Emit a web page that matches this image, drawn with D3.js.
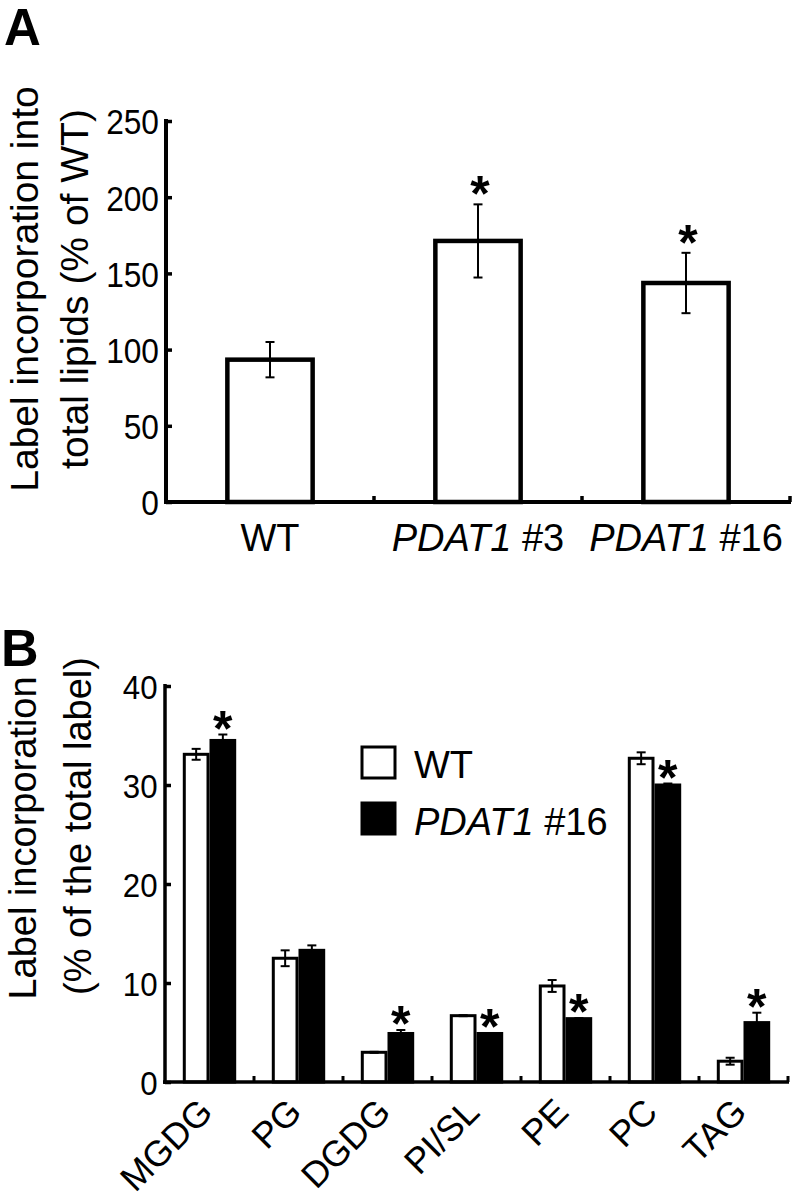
<!DOCTYPE html>
<html>
<head>
<meta charset="utf-8">
<script src="https://cdn.jsdelivr.net/npm/d3@7"></script>
<style>
  html, body { margin: 0; padding: 0; background: #fff; }
  svg { display: block; font-family: "Liberation Sans", Arial, Helvetica, sans-serif; }
</style>
</head>
<body>
<svg id="chart" width="797" height="1201"></svg>
<script>
// ---------- Panel A data ----------
const catsA = ["WT", "PDAT1 #3", "PDAT1 #16"];
const valuesA = [93.4, 171.3, 143.7];
const errA = [11.6, 24.0, 19.8];
const sigA = [false, true, true];
const yTicksA = [0, 50, 100, 150, 200, 250];

// ---------- Panel B data ----------
const catsB = ["MGDG", "PG", "DGDG", "PI/SL", "PE", "PC", "TAG"];
const seriesB = ["WT", "PDAT1 #16"];
const wtB = [33.1, 12.5, 3.0, 6.7, 9.7, 32.7, 2.1];
const wtErrB = [0.55, 0.8, 0.05, 0.05, 0.6, 0.6, 0.35];
const pdatB = [34.5, 13.3, 4.9, 4.9, 6.4, 30.0, 6.0];
const pdatErrB = [0.6, 0.5, 0.35, 0.05, 0.05, 0.15, 1.0];
const sigWtB = [false, false, false, false, false, false, false];
const sigPdatB = [true, false, true, true, true, true, true];
const yTicksB = [0, 10, 20, 30, 40];

const svg = d3.select("#chart");
svg.append("rect").attr("width", 797).attr("height", 1201).attr("fill", "#fff");

function labelWithItalic(sel, label) {
  const m = label.match(/^(PDAT1)(.*)$/);
  if (m) {
    sel.append("tspan").attr("font-style", "italic").text(m[1]);
    sel.append("tspan").text(m[2]);
  } else {
    sel.text(label);
  }
}

function star(g, x, yc) {
  g.append("text")
    .attr("x", x).attr("y", yc + 28)
    .attr("text-anchor", "middle")
    .attr("font-weight", "bold")
    .attr("font-size", 50)
    .text("*");
}

function errBar(g, x, y0, y1, cap, w) {
  g.append("line").attr("x1", x).attr("x2", x).attr("y1", y0).attr("y2", y1)
    .attr("stroke", "#000").attr("stroke-width", w);
  [y0, y1].forEach(yy => g.append("line")
    .attr("x1", x - cap / 2).attr("x2", x + cap / 2).attr("y1", yy).attr("y2", yy)
    .attr("stroke", "#000").attr("stroke-width", w));
}

// ================= PANEL A =================
(function () {
  const g = svg.append("g");
  const x = d3.scaleBand().domain(catsA).range([166, 790]).paddingInner(0.59).paddingOuter(0.295);
  const y = d3.scaleLinear().domain([0, 250]).range([502, 121]);

  g.append("text").attr("x", 4).attr("y", 45).attr("font-size", 51).attr("font-weight", "bold").text("A");

  catsA.forEach((c, i) => {
    g.append("rect")
      .attr("x", x(c)).attr("y", y(valuesA[i]))
      .attr("width", x.bandwidth()).attr("height", y(0) - y(valuesA[i]))
      .attr("fill", "#fff").attr("stroke", "#000").attr("stroke-width", 4.5);
  });
  catsA.forEach((c, i) => {
    const cx = x(c) + x.bandwidth() / 2;
    errBar(g, cx, y(valuesA[i] + errA[i]), y(valuesA[i] - errA[i]), 9, 2);
    if (sigA[i]) star(g, cx + 2, y(valuesA[i] + errA[i]) - 21);
  });

  const yAxis = d3.axisLeft(y).tickValues(yTicksA).tickSizeInner(-6).tickSizeOuter(0).tickPadding(8);
  const ya = g.append("g").attr("transform", "translate(166,0)").call(yAxis);
  ya.select(".domain").attr("stroke-width", 4).attr("d", `M0,${y(250) - 2}V${y(0) + 2}`);
  ya.selectAll(".tick line").attr("stroke-width", 3.5);
  ya.selectAll(".tick text").attr("font-size", 36).attr("fill", "#000")
    .attr("font-family", "Liberation Sans, Arial, sans-serif")
    .attr("transform", "scale(0.88,1)").attr("dy", "0.36em");

  const bounds = d3.range(catsA.length + 1).map(k => 166 + k * x.step());
  g.append("line").attr("x1", 164).attr("x2", bounds[bounds.length - 1] + 1)
    .attr("y1", y(0)).attr("y2", y(0)).attr("stroke", "#000").attr("stroke-width", 4);
  bounds.slice(1).forEach(bx => g.append("line").attr("x1", bx).attr("x2", bx)
    .attr("y1", y(0)).attr("y2", y(0) - 6).attr("stroke", "#000").attr("stroke-width", 3.5));

  catsA.forEach(c => {
    const t = g.append("text").attr("x", x(c) + x.bandwidth() / 2).attr("y", 551)
      .attr("text-anchor", "middle").attr("font-size", 38);
    labelWithItalic(t, c);
  });

  g.append("text").attr("transform", "translate(38,289) rotate(-90)")
    .attr("text-anchor", "middle").attr("font-size", 39).text("Label incorporation into");
  g.append("text").attr("transform", "translate(88,289) rotate(-90)")
    .attr("text-anchor", "middle").attr("font-size", 39).text("total lipids (% of WT)");
})();

// ================= PANEL B =================
(function () {
  const g = svg.append("g");
  const x0 = d3.scaleBand().domain(catsB).range([165, 788]).paddingInner(0.4).paddingOuter(0.2);
  const x1 = d3.scaleBand().domain(seriesB).range([0, x0.bandwidth()]);
  const y = d3.scaleLinear().domain([0, 40]).range([1082, 686]);

  g.append("text").attr("x", 1).attr("y", 666).attr("font-size", 52).attr("font-weight", "bold").text("B");

  const seriesVals = [wtB, pdatB];
  const seriesErr = [wtErrB, pdatErrB];
  const seriesSig = [sigWtB, sigPdatB];
  const fills = ["#fff", "#000"];

  catsB.forEach((c, i) => {
    seriesB.forEach((s, j) => {
      const v = seriesVals[j][i];
      g.append("rect")
        .attr("x", x0(c) + x1(s) + 1.5).attr("y", y(v))
        .attr("width", x1.bandwidth() - 3).attr("height", y(0) - y(v))
        .attr("fill", fills[j]).attr("stroke", "#000").attr("stroke-width", 3);
    });
  });
  catsB.forEach((c, i) => {
    seriesB.forEach((s, j) => {
      const v = seriesVals[j][i], e = seriesErr[j][i];
      const cx = x0(c) + x1(s) + x1.bandwidth() / 2;
      errBar(g, cx, y(v + e), y(v - e), 9, 2);
      if (seriesSig[j][i]) star(g, cx, y(v + e) - 17);
    });
  });

  const yAxis = d3.axisLeft(y).tickValues(yTicksB).tickSizeInner(-6).tickSizeOuter(0).tickPadding(8);
  const ya = g.append("g").attr("transform", "translate(165,0)").call(yAxis);
  ya.select(".domain").attr("stroke-width", 3.5).attr("d", `M0,${y(40) - 2}V${y(0) + 2}`);
  ya.selectAll(".tick line").attr("stroke-width", 3.5);
  ya.selectAll(".tick text").attr("font-size", 34).attr("fill", "#000")
    .attr("font-family", "Liberation Sans, Arial, sans-serif")
    .attr("transform", "scale(0.92,1)").attr("dy", "0.36em");

  const bounds = d3.range(catsB.length + 1).map(k => 165 + k * x0.step());
  g.append("line").attr("x1", 163).attr("x2", bounds[bounds.length - 1] + 1)
    .attr("y1", y(0)).attr("y2", y(0)).attr("stroke", "#000").attr("stroke-width", 3.5);
  bounds.slice(1).forEach(bx => g.append("line").attr("x1", bx).attr("x2", bx)
    .attr("y1", y(0)).attr("y2", y(0) - 6).attr("stroke", "#000").attr("stroke-width", 3));

  catsB.forEach(c => {
    const cx = x0(c) + x0.bandwidth() / 2 + 5;
    g.append("text").attr("transform", `translate(${cx},1114) rotate(-45)`)
      .attr("text-anchor", "end").attr("font-size", 36).text(c);
  });

  const lg = g.append("g");
  lg.append("rect").attr("x", 362).attr("y", 747).attr("width", 33).attr("height", 31)
    .attr("fill", "#fff").attr("stroke", "#000").attr("stroke-width", 3);
  lg.append("rect").attr("x", 362).attr("y", 803).attr("width", 33).attr("height", 31)
    .attr("fill", "#000").attr("stroke", "#000").attr("stroke-width", 3);
  lg.append("text").attr("x", 414).attr("y", 778).attr("font-size", 38).text(seriesB[0]);
  const lt = lg.append("text").attr("x", 414).attr("y", 835).attr("font-size", 38);
  labelWithItalic(lt, seriesB[1]);

  g.append("text").attr("transform", "translate(36,838) rotate(-90)")
    .attr("text-anchor", "middle").attr("font-size", 38).text("Label incorporation");
  g.append("text").attr("transform", "translate(91,826) rotate(-90)")
    .attr("text-anchor", "middle").attr("font-size", 38).text("(% of the total label)");
})();
</script>
</body>
</html>
